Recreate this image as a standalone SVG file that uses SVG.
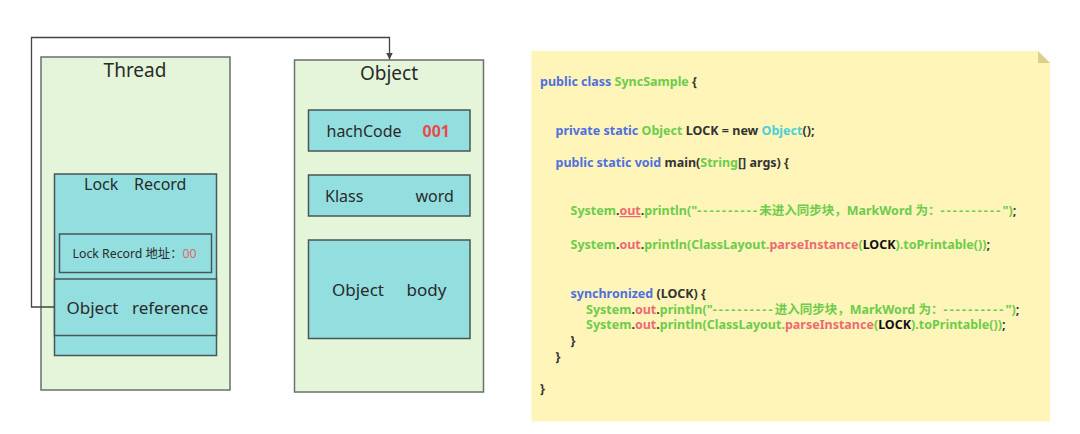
<svg xmlns="http://www.w3.org/2000/svg" width="1080" height="434" viewBox="0 0 1080 434">
<defs>
<style>
.outer{fill:#e4f5da;stroke:#6b6f6f;stroke-width:1.5}
.cell{fill:#93dfe0;stroke:#4a5656;stroke-width:1.5}
.lbl{font-family:"Noto Sans","Noto Sans CJK SC",sans-serif;fill:#2a2a2a}
.code{font-family:"Noto Sans","Noto Sans CJK SC",sans-serif;font-weight:bold;font-size:12.5px;fill:#333}
.kw{fill:#4f6fe0}
.gr{fill:#6ccc4c}
.rd{fill:#ec6a74}
.cy{fill:#4ccfd6}
.bk{fill:#111}
.dash{letter-spacing:2.2px}
.conn{fill:none;stroke:#444;stroke-width:1.3}
</style>
<marker id="arr" viewBox="0 0 10 10" refX="10" refY="5" markerWidth="7" markerHeight="7" orient="auto" markerUnits="userSpaceOnUse">
<path d="M0,0 L10,5 L0,10 z" fill="#444"/>
</marker>
</defs>
<rect width="1080" height="434" fill="#fff"/>

<g id="thread">
<rect class="outer" x="41" y="57" width="189" height="333"/>
<text class="lbl" x="135" y="77" font-size="19" text-anchor="middle">Thread</text>
</g>
<g id="lock-record">
<rect class="cell" x="54.5" y="174" width="162" height="181.5"/>
<text class="lbl" y="190" font-size="16"><tspan x="84">Lock</tspan><tspan x="134">Record</tspan></text>
</g>
<g id="lock-record-address">
<rect class="cell" x="59.5" y="234" width="152" height="38.5"/>
<text class="lbl" x="72.5" y="257.5" font-size="12.3">Lock Record 地址：<tspan fill="#e06666">00</tspan></text>
</g>
<g id="object-reference">
<rect class="cell" x="54.5" y="279" width="162" height="56.5"/>
<text class="lbl" y="314" font-size="17"><tspan x="66.5">Object</tspan><tspan x="132">reference</tspan></text>
</g>

<g id="object">
<rect class="outer" x="294.5" y="60" width="189" height="332"/>
<text class="lbl" x="389" y="80" font-size="19" text-anchor="middle">Object</text>
</g>
<g id="hashcode">
<rect class="cell" x="308.5" y="110" width="161.5" height="41"/>
<text class="lbl" y="137" font-size="16"><tspan x="326.5">hachCode</tspan><tspan x="422.5" fill="#e84c4c" font-weight="bold">001</tspan></text>
</g>
<g id="klass-word">
<rect class="cell" x="308.5" y="175" width="161.5" height="41"/>
<text class="lbl" y="201.5" font-size="16"><tspan x="325">Klass</tspan><tspan x="415.5">word</tspan></text>
</g>
<g id="object-body">
<rect class="cell" x="308.5" y="240" width="161.5" height="98.5"/>
<text class="lbl" y="296" font-size="17"><tspan x="332">Object</tspan><tspan x="406.5">body</tspan></text>
</g>

<g id="connectors">
<path class="conn" d="M54.5,307 H31.5 V37.5 H389.5 V59.5" marker-end="url(#arr)"/>
</g>

<g id="code-note">
<path d="M531.5,51 H1038 L1050,63 V421.5 H531.5 Z" fill="#fff5b8"/>
<path d="M1038,51 L1050,63 H1038 Z" fill="#ddcf8a"/>
<text class="code" x="540" y="86"><tspan class="kw">public class </tspan><tspan class="gr">SyncSample </tspan>{</text>
<text class="code" x="555.5" y="135"><tspan class="kw">private static </tspan><tspan class="gr">Object </tspan>LOCK = new <tspan class="cy">Object</tspan>();</text>
<text class="code" x="555.5" y="167"><tspan class="kw">public static void </tspan>main(<tspan class="gr">String</tspan>[] args) {</text>
<text class="code" x="570.5" y="215"><tspan class="gr">System</tspan>.<tspan class="rd" text-decoration="underline">out</tspan>.<tspan class="gr">println("<tspan class="dash">----------</tspan>未进入同步块，MarkWord 为：<tspan class="dash">----------</tspan>")</tspan>;</text>
<text class="code" x="570.5" y="248.5"><tspan class="gr">System</tspan>.<tspan class="rd">out</tspan>.<tspan class="gr">println(ClassLayout.</tspan><tspan class="rd">parseInstance</tspan><tspan class="gr">(</tspan><tspan class="bk">LOCK</tspan><tspan class="gr">).toPrintable())</tspan>;</text>
<text class="code" x="570.5" y="297.5"><tspan class="kw">synchronized </tspan>(LOCK) {</text>
<text class="code" x="586" y="313.5"><tspan class="gr">System</tspan>.<tspan class="rd">out</tspan>.<tspan class="gr">println("<tspan class="dash">----------</tspan>进入同步块，MarkWord 为：<tspan class="dash">----------</tspan>")</tspan>;</text>
<text class="code" x="586" y="329"><tspan class="gr">System</tspan>.<tspan class="rd">out</tspan>.<tspan class="gr">println(ClassLayout.</tspan><tspan class="rd">parseInstance</tspan><tspan class="gr">(</tspan><tspan class="bk">LOCK</tspan><tspan class="gr">).toPrintable())</tspan>;</text>
<text class="code" x="570.5" y="345">}</text>
<text class="code" x="555.5" y="361">}</text>
<text class="code" x="540" y="393">}</text>
</g>
</svg>
